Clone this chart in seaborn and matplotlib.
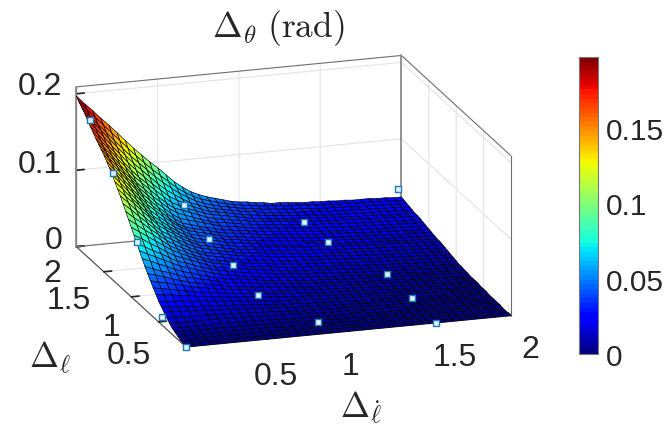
import numpy as np
import matplotlib
matplotlib.use('Agg')
import matplotlib.pyplot as plt
import seaborn as sns
from matplotlib.colors import Normalize
from matplotlib.cm import ScalarMappable
from mpl_toolkits.mplot3d import proj3d

# eixos
x_vals = np.arange(41) * 0.05
y_vals = np.arange(40, -1, -1) * 0.05

# valores (milesimos de rad), linha 1 = y 2.0, ultima = y 0
z_milli = [
    [197,186,176,165,155, 144,133,122,112,102, 93,83,73,65,58, 53,49,46,43,40, 38,37,35,34,32, 32,31,30,29,29, 28,28,27,27,26, 26,26,25,25,24, 24],
    [192,181,170,159,148, 137,126,115,105,95, 86,77,68,61,55, 50,47,44,41,39, 37,36,34,33,32, 31,30,30,29,28, 27,27,26,26,25, 25,25,24,24,23, 23],
    [188,176,164,153,141, 130,119,109,99,89, 80,72,64,58,52, 48,45,42,40,38, 36,35,33,32,31, 30,29,29,28,27, 26,26,25,25,24, 24,24,23,23,22, 22],
    [184,172,160,148,136, 124,113,103,93,83, 74,67,60,54,50, 46,43,41,39,37, 35,34,32,31,30, 29,28,28,27,26, 25,25,24,24,23, 23,23,22,22,21, 21],
    [179,167,155,142,130, 118,107,97,87,78, 69,63,57,52,48, 44,42,40,38,36, 34,33,31,30,29, 28,27,27,26,25, 24,24,23,23,22, 22,22,21,21,20, 20],
    [174,162,149,137,124, 112,101,92,82,73, 64,59,54,50,46, 43,41,39,37,35, 33,32,30,29,28, 27,27,26,25,25, 24,23,23,22,22, 21,21,20,20,19, 19],
    [170,157,145,132,120, 107,97,87,77,68, 60,56,52,48,44, 41,39,37,36,34, 32,31,30,29,28, 27,26,25,25,24, 23,23,22,22,21, 21,20,20,19,19, 19],
    [165,152,140,127,115, 102,92,82,73,64, 57,53,49,45,42, 39,38,36,34,33, 31,30,29,28,27, 26,25,24,24,23, 22,22,21,21,20, 20,19,19,18,18, 18],
    [161,148,136,123,111, 98,88,78,69,60, 53,50,47,44,41, 38,36,35,33,31, 30,29,28,27,26, 25,24,23,23,22, 21,21,20,20,19, 19,18,18,17,17, 17],
    [157,144,132,119,107, 94,84,74,65,57, 50,47,44,41,39, 36,35,33,32,30, 29,28,27,26,25, 24,23,22,22,21, 20,20,19,19,18, 18,17,17,16,16, 16],
    [153,140,128,115,103, 90,80,71,62,54, 48,45,43,40,37, 35,34,32,31,29, 28,27,26,25,24, 23,22,22,21,20, 20,19,18,18,17, 17,16,16,15,15, 15],
    [148,135,123,110,98, 86,77,68,60,53, 47,44,42,39,36, 34,33,31,30,28, 27,26,25,24,23, 22,21,21,20,19, 19,18,17,17,16, 16,15,15,14,14, 14],
    [143,131,118,106,94, 82,73,65,57,51, 45,43,40,38,35, 33,32,30,29,27, 26,25,24,23,22, 21,21,20,19,19, 18,17,17,16,15, 15,14,14,13,13, 13],
    [137,125,113,101,90, 78,70,62,55,49, 44,41,39,37,34, 32,31,29,28,26, 25,24,23,22,22, 21,20,19,18,18, 17,16,16,15,15, 14,14,13,13,12, 12],
    [131,120,108,97,86, 75,67,60,53,47, 42,40,38,35,33, 31,30,29,27,26, 25,24,23,22,21, 21,20,19,18,18, 17,16,16,15,15, 14,14,13,13,12, 12],
    [125,114,104,93,83, 72,65,58,51,46, 41,39,36,34,32, 30,29,28,26,25, 24,23,22,21,20, 20,19,18,17,17, 16,15,15,14,14, 13,13,12,12,11, 11],
    [119,109,98,88,78, 68,62,55,49,44, 40,38,35,33,31, 29,28,27,25,24, 23,22,21,20,19, 19,18,17,16,16, 15,14,14,13,13, 12,12,11,11,10, 10],
    [112,103,93,84,74, 65,59,53,47,42, 38,36,34,32,30, 28,27,26,24,23, 22,21,20,19,18, 18,17,16,15,15, 14,13,13,12,12, 11,11,10,10,9, 9],
    [105,96,88,79,71, 62,56,50,45,41, 37,35,33,30,28, 26,25,24,23,21, 20,19,19,18,17, 17,16,15,14,14, 13,12,12,11,11, 10,10,9,9,8, 8],
    [98,90,82,75,67, 59,53,48,43,39, 35,33,31,29,27, 25,24,23,21,20, 19,18,18,17,16, 16,15,14,13,13, 12,11,11,10,10, 9,9,8,8,7, 7],
    [91,84,77,70,63, 56,51,46,42,38, 34,32,30,28,26, 24,23,22,20,19, 18,17,17,16,15, 15,14,13,12,12, 11,10,10,9,9, 8,8,7,7,6, 6],
    [84,78,71,65,58, 52,48,44,40,36, 32,30,28,27,25, 23,22,21,19,18, 17,16,16,15,14, 14,13,12,11,11, 10,9,9,8,8, 7,7,6,6,5, 5],
    [77,71,65,60,54, 48,45,41,37,34, 31,29,27,25,23, 22,20,19,18,17, 16,15,15,14,13, 13,12,11,10,10, 9,9,8,8,7, 7,6,6,5,5, 5],
    [70,65,60,55,50, 45,42,38,35,32, 29,27,25,23,22, 20,19,18,17,16, 15,14,14,13,12, 12,11,10,9,9, 8,8,7,7,6, 6,5,5,4,4, 4],
    [63,59,54,50,45, 41,38,35,32,29, 27,25,24,22,21, 19,18,17,16,15, 14,13,13,12,11, 11,10,10,9,9, 8,8,7,7,6, 6,5,5,4,4, 4],
    [56,52,48,45,41, 37,35,32,30,27, 25,24,22,21,19, 18,17,16,15,14, 13,13,12,11,11, 10,9,9,8,8, 7,7,6,6,5, 5,4,4,3,3, 3],
    [50,47,44,40,37, 34,32,30,27,25, 23,22,21,19,18, 17,16,15,14,13, 12,12,11,11,10, 10,9,9,8,8, 7,7,6,6,5, 5,4,4,3,3, 3],
    [44,41,39,36,34, 31,29,27,25,24, 22,21,20,18,17, 16,15,14,14,13, 12,11,10,10,9, 9,8,8,7,7, 6,6,5,5,4, 4,4,3,3,3, 3],
    [38,36,34,32,30, 28,26,25,23,22, 20,19,18,17,16, 15,14,13,13,12, 11,10,10,9,9, 8,8,7,7,6, 6,5,5,5,4, 4,4,3,3,3, 3],
    [33,31,30,28,27, 25,24,22,21,20, 19,18,17,16,15, 14,13,12,12,11, 10,10,9,9,8, 8,7,7,6,6, 5,5,5,4,4, 4,3,3,3,2, 2],
    [27,26,25,24,23, 22,21,20,19,18, 17,16,15,14,13, 12,12,11,11,10, 9,9,8,8,7, 7,7,6,6,5, 5,5,4,4,4, 3,3,3,2,2, 2],
    [23,22,21,20,19, 19,18,17,16,16, 15,14,13,12,12, 11,10,10,9,9, 8,8,7,7,6, 6,6,5,5,5, 4,4,4,3,3, 3,3,2,2,2, 2],
    [19,19,18,18,17, 17,16,15,15,14, 13,13,12,11,11, 10,9,9,8,8, 7,7,6,6,6, 5,5,5,4,4, 4,3,3,3,3, 2,2,2,2,1, 1],
    [15,15,15,14,14, 14,13,13,12,12, 11,11,10,10,9, 9,8,8,7,7, 6,6,6,5,5, 5,4,4,4,4, 3,3,3,3,2, 2,2,2,1,1, 1],
    [11,11,11,11,11, 11,11,11,10,10, 10,9,9,8,8, 8,7,7,6,6, 5,5,5,5,4, 4,4,4,3,3, 3,3,2,2,2, 2,2,1,1,1, 1],
    [8,8,8,8,8, 8,8,8,8,7, 7,7,7,6,6, 6,5,5,5,4, 4,4,4,4,3, 3,3,3,3,2, 2,2,2,2,2, 1,1,1,1,1, 1],
    [6,6,6,6,6, 6,6,6,6,6, 6,5,5,5,5, 5,4,4,4,4, 3,3,3,3,3, 3,2,2,2,2, 2,2,2,1,1, 1,1,1,1,1, 1],
    [4,4,4,4,4, 4,4,4,4,4, 4,4,4,3,3, 3,3,3,3,2, 2,2,2,2,2, 2,2,1,1,1, 1,1,1,1,1, 1,1,1,1,0, 0],
    [2,2,3,3,3, 3,3,3,3,3, 3,3,2,2,2, 2,2,2,2,2, 1,1,1,1,1, 1,1,1,1,1, 1,1,1,1,0, 0,0,0,0,0, 0],
    [1,1,1,1,1, 1,1,1,1,1, 1,1,1,1,1, 1,1,1,1,1, 1,1,1,0,0, 0,0,0,0,0, 0,0,0,0,0, 0,0,0,0,0, 0],
    [0,0,0,0,0, 0,0,0,0,0, 0,0,0,0,0, 0,0,0,0,0, 0,0,0,0,0, 0,0,0,0,0, 0,0,0,0,0, 0,0,0,0,0, 0],
]

# pontos marcados
mark_x = [0, 0, 0, 0, 0, 0.58, 0.59, 0.59, 0.59, 0.81, 1.32, 1.32, 1.54, 1.54, 1.54, 1.98]
mark_y = [1.76, 1.33, 0.89, 0.44, 0, 1.76, 1.33, 0.89, 0.44, 0, 1.76, 1.33, 0.89, 0.44, 0, 2]
mark_z = [0.182, 0.140, 0.079, 0.011, 0, 0.058, 0.042, 0.037, 0.027, 0.016, 0.021, 0.023, 0.005, 0.003, 0, 0.035]

xy_ticks = [0.5, 1, 1.5, 2]
xy_labels = ['0.5', '1', '1.5', '2']
z_ticks = [0, 0.1, 0.2]
z_labels = ['0', '0.1', '0.2']
cbar_ticks = [0, 0.05, 0.1, 0.15]
cbar_labels = ['0', '0.05', '0.1', '0.15']

sns.set_theme(style='white')
plt.rcParams['font.family'] = ['Liberation Sans', 'DejaVu Sans']
plt.rcParams['mathtext.fontset'] = 'cm'

W, H = 664, 435
txt = '#262626'
Z = np.array(z_milli) / 1000
X, Y = np.meshgrid(x_vals, y_vals)
cmap = plt.get_cmap('jet', 64)
norm = Normalize(0, Z.max())

fig = plt.figure(figsize=(W / 100, H / 100), dpi=100)
ax = fig.add_axes([0, 0, H / W, 1], projection='3d')
ax.computed_zorder = False
ax.set_proj_type('ortho')
ax.view_init(elev=17.3, azim=-108)
ax.set_box_aspect((343, 356, 168))
ax.set_xlim(0, 2)
ax.set_ylim(0, 2)
ax.set_zlim(0, 0.209)

ax.plot_surface(X, Y, Z, rstride=1, cstride=1, cmap=cmap, norm=norm,
                edgecolor='black', linewidth=0.45, shade=False, zorder=3)
ax.scatter(mark_x, mark_y, mark_z, marker='s', s=13, c='#dff3fb', edgecolors='#1f78b4',
           linewidths=1, depthshade=False, zorder=5)

# caixa
edge = '#6e6e6e'
zt = 0.209
ax.plot([0, 2], [2, 2], [zt, zt], color=edge, lw=0.8, zorder=1)
ax.plot([2, 2], [2, 0], [zt, zt], color=edge, lw=0.8, zorder=1)
ax.plot([0, 0], [2, 2], [0, zt], color='#8c8c8c', lw=1.3, zorder=1)
ax.plot([2, 2], [2, 2], [0, zt], color='#8c8c8c', lw=1.3, zorder=1)
ax.plot([2, 2], [0, 0], [0, zt], color=edge, lw=0.8, zorder=1)
ax.plot([0, 2], [2, 2], [0, 0], color=edge, lw=0.8, zorder=1)

# rotulos dos ticks ficam em fig.text, o matlab nao alinha eles de forma regular
ax.set_xticks(xy_ticks, [''] * len(xy_ticks))
ax.set_yticks(xy_ticks, [''] * len(xy_ticks))
ax.set_zticks(z_ticks, [''] * len(z_ticks))
for a in (ax.xaxis, ax.yaxis, ax.zaxis):
    a.set_pane_color((1, 1, 1, 0))
    a.line.set_color('#555555')
    a.line.set_linewidth(0.9)
    a._axinfo['grid']['color'] = '#e4e4e4'
    a._axinfo['grid']['linewidth'] = 0.8
    a._axinfo['tick']['inward_factor'] = 0
    a._axinfo['tick']['outward_factor'] = 0.3
    a._axinfo['tick']['color'] = '#555555'

# ajusta a posicao do eixo para os cantos da caixa
def to_px(x, y, z):
    px, py, _ = proj3d.proj_transform(x, y, z, ax.get_proj())
    return ax.transData.transform((px, py))

fig.canvas.draw()
p0, p1 = to_px(0, 0, 0), to_px(2, 0, 0)
k = (511 - 186) / (p1[0] - p0[0])
size = H * k
ax.set_position([0, 0, size / W, size / H])
fig.canvas.draw()
p0 = to_px(0, 0, 0)
ax.set_position([(186 - p0[0]) / W, ((H - 348) - p0[1]) / H, size / W, size / H])

def label_px(px, py, s, size=23, ha='center'):
    fig.text(px / W, 1 - py / H, s, ha=ha, va='center', fontsize=size, color=txt)

for s, px, py in zip(xy_labels, [276, 351, 455, 530], [377, 367, 358, 350]):
    label_px(px, py, s)
for s, px, py in zip(xy_labels, [129, 112, 69, 52], [356, 328, 301, 274]):
    label_px(px, py, s)
for s, py in zip(z_labels, [241, 165, 87]):
    label_px(62, py, s, ha='right')

# barra de cores
cax = fig.add_axes([579 / W, 1 - 355 / H, 19 / W, 297 / H])
cb = fig.colorbar(ScalarMappable(norm=norm, cmap=cmap), cax=cax)
cb.set_ticks(cbar_ticks, labels=cbar_labels)
cb.ax.tick_params(labelsize=21.5, labelcolor=txt, length=3, width=0.6, direction='in', color='#333333', pad=6)
cb.outline.set_edgecolor('#777777')
cb.outline.set_linewidth(0.8)

label_px(278, 28, r'$\Delta_{\theta}\ \mathrm{(rad)}$', size=25.5)
label_px(50, 358, r'$\Delta_{\ell}$', size=25)
label_px(361, 408, r'$\Delta_{\dot{\ell}}$', size=25)

fig.savefig('out.png', dpi=100)
